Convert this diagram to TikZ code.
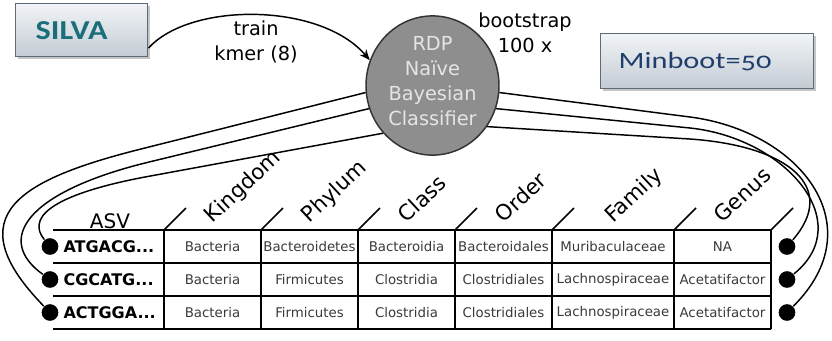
\documentclass[tikz,border=0pt]{standalone}
\usepackage{fontspec}
\setmainfont{DejaVu Sans}
\newfontfamily\calfont{Carlito}[Numbers=OldStyle]
\usetikzlibrary{shapes, arrows.meta, shadows}
\definecolor{silvateal}{HTML}{1B6E79}
\definecolor{bootblue}{HTML}{1F3E6B}
\definecolor{boxtop}{HTML}{F1F4F7}
\definecolor{boxbot}{HTML}{C3CBD3}
\definecolor{boxedge}{HTML}{5E6B76}
\definecolor{rdpgray}{HTML}{8E8E8E}
\definecolor{celltext}{HTML}{3A3A3A}

\begin{document}
\begin{tikzpicture}[x=0.75pt, y=0.75pt, >={Stealth[length=8pt, width=6.5pt]}, thick,
      main node/.style={ellipse, draw=black!80, fill=rdpgray, text=white!90!black,
        line width=1.1pt, minimum width=99.75pt, minimum height=93.75pt, inner sep=0pt,
        align=center, text depth=7pt, font=\fontsize{14.5}{18.75}\selectfont},
      box node/.style={draw=boxedge, line width=1.1pt, top color=boxtop, bottom color=boxbot,
        drop shadow={shadow xshift=1.5pt, shadow yshift=-1.5pt, opacity=.45},
        align=left, anchor=north west, inner ysep=0pt},
      note node/.style={align=center, font=\fontsize{14.5}{18.5}\selectfont},
      head node/.style={rotate=43, anchor=base west, inner sep=0pt, font=\fontsize{16}{16}\selectfont},
      cell node/.style={text=celltext, inner sep=0pt, font=\fontsize{10}{12}\selectfont},
      asv node/.style={anchor=west, inner sep=0pt, font=\bfseries\fontsize{12}{14}\selectfont},
      dot node/.style={circle, fill=black, inner sep=0pt, minimum size=12.5pt},
      wire/.style={line width=1.1pt}]

    \useasboundingbox (0,0) rectangle (832,-340);

    \node[box node, minimum width=99pt, minimum height=39.75pt, inner xsep=15pt, text width=69pt]
        (silva) at (15,-3) {\calfont\bfseries\color{silvateal}\fontsize{20.5}{20.5}\selectfont\scalebox{1.18}[1]{SILVA}};
    \node[box node, minimum width=159.75pt, minimum height=41.25pt, inner xsep=13.5pt, text width=132.75pt]
        (minboot) at (600,-33) {\calfont\color{bootblue}\fontsize{17.5}{17.5}\selectfont\scalebox{1.3}[1]{Minboot=50}};

    \node[main node] (rdp) at (432.5,-85.5) {RDP\\Naïve\\Bayesian\\Classifier};
    \node[note node] (boot) at (525,-33) {bootstrap\\100 x};

    \draw[->, wire] (silva.345) .. controls (190,-2) and (320,-2) ..
        node[note node, below, pos=.5, inner sep=4pt] {train\\kmer (8)} (rdp.158);

    % table
    \node[anchor=base, font=\fontsize{15}{15}\selectfont] (asv) at (110,-228) {ASV};
    \foreach \y in {-230,-263,-296,-329}
        \draw[line width=1.2pt] (53,\y) -- (771,\y);
    \foreach \x in {164,261,358,455,552,674,771}
        \draw[line width=1.2pt] (\x,-230) -- (\x,-329) (\x,-230) -- ++(22,22);
    \foreach \hd/\x in {Kingdom/212.5, Phylum/309.5, Class/406.5, Order/503.5, Family/613, Genus/722.5}
        \node[head node] (\hd) at (\x,-224) {\hd};

    \foreach \row [count=\i] in {{Bacteria,Bacteroidetes,Bacteroidia,Bacteroidales,Muribaculaceae,NA},
        {Bacteria,Firmicutes,Clostridia,Clostridiales,Lachnospiraceae,Acetatifactor},
        {Bacteria,Firmicutes,Clostridia,Clostridiales,Lachnospiraceae,Acetatifactor}}
        \foreach \txt [count=\j] in \row {
            \pgfmathsetmacro\cx{{212.5,309.5,406.5,503.5,613,722.5}[\j-1]}
            \node[cell node] (c\i\j) at (\cx,-213.5-33*\i) {\txt};
        };

    \foreach \seq [count=\i] in {ATGACG,CGCATG,ACTGGA} {
        \node[asv node] (asv\i) at (63,-213.5-33*\i) {\seq...};
        \node[dot node] (l\i) at (50,-213.5-33*\i) {};
        \node[dot node] (r\i) at (787,-213.5-33*\i) {};
    }

    % classifier to sequences
    \draw[wire] (rdp.186) -- (145,-148) .. controls (20,-179) and (-45,-215) .. (l3);
    \draw[wire] (rdp.200) -- (145,-163) .. controls (25,-193) and (-5,-240) .. (l2);
    \draw[wire] (rdp.224) -- (145,-177) .. controls (71,-191) and (22,-212) .. (l1);
    \draw[wire] (rdp.354) -- (690,-117) .. controls (799,-131) and (875,-225) .. (r3);
    \draw[wire] (rdp.340) -- (690,-128) .. controls (785,-138) and (858,-222) .. (r2);
    \draw[wire] (rdp.323) -- (690,-139) .. controls (790,-146) and (838,-188) .. (r1);
\end{tikzpicture}
\end{document}
